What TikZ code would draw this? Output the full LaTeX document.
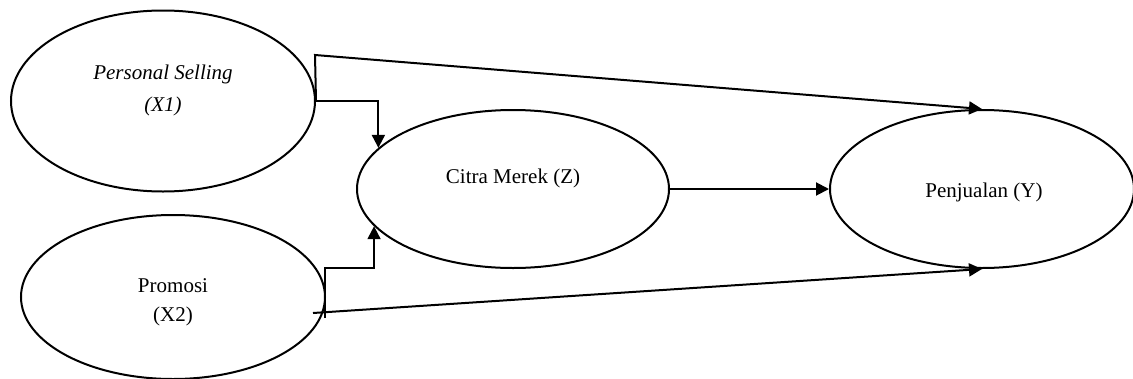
\documentclass[tikz,border=0pt]{standalone}
\usepackage{fontspec}
\setmainfont{Liberation Serif}
\usetikzlibrary{arrows.meta,shapes.geometric}
\begin{document}
\begin{tikzpicture}[x=1pt,y=-1pt,
  var/.style={draw,line width=2pt,ellipse,inner sep=0pt},
  txt/.style={font=\fontsize{21}{33}\selectfont,align=center,inner sep=0pt},
  conn/.style={line width=2pt},
  arr/.style={line width=2pt,-{Triangle[length=13pt,width=13pt]}}]
\useasboundingbox (0,0) rectangle (1133,378);
\node[var,minimum width=304pt,minimum height=181pt] (ps) at (163,101) {};
\node[var,minimum width=304pt,minimum height=164pt] (pr) at (173,297) {};
\node[var,minimum width=312pt,minimum height=158pt] (cm) at (513,189) {};
\node[var,minimum width=304pt,minimum height=158pt] (pj) at (982,189) {};
\node[txt] (tps) at (163,90) {\itshape Personal Selling\\[-1pt]\itshape (X1)};
\node[txt] (tpr) at (173,302) {Promosi\\[-4pt](X2)};
\node[txt] (tcm) at (513,178) {Citra Merek (Z)};
\node[txt] (tpj) at (984,192) {Penjualan (Y)};
\coordinate (c1) at (315,55);
\coordinate (p1) at (325,318);
\coordinate (p2) at (325,268);
\coordinate (p3) at (313,313);
\draw[arr] (ps.east) -- (c1) -- (pj.north);
\draw[arr] (ps.east) -| (cm.163.6);
\draw[arr] (p1) -- (p2) -| (cm.195);
\draw[arr] (p3) -- (pj.south);
\draw[arr] (cm.east) -- (pj.west);
\end{tikzpicture}
\end{document}
